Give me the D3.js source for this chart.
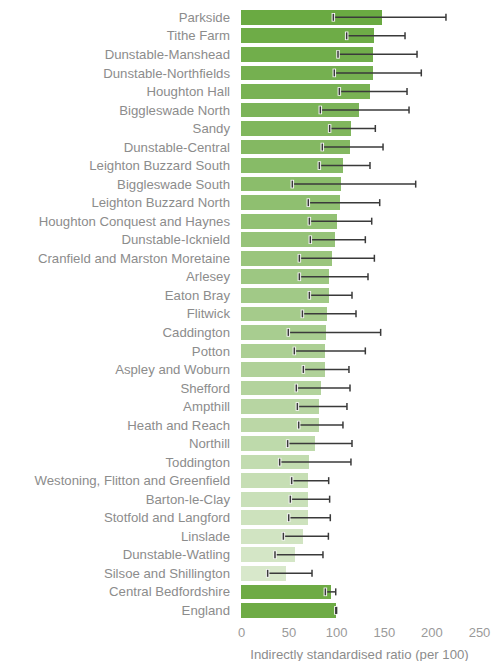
<!DOCTYPE html>
<html>
<head>
<meta charset="utf-8">
<style>
  body {margin: 0; font-family: "Liberation Sans", Arial, sans-serif; background: #fff;}
</style>
<script src="https://d3js.org/d3.v7.min.js"></script>
</head>
<body>
<div id="chart"></div>
<script>

const areas = ["Parkside", "Tithe Farm", "Dunstable-Manshead", "Dunstable-Northfields",
  "Houghton Hall", "Biggleswade North", "Sandy", "Dunstable-Central", "Leighton Buzzard South",
  "Biggleswade South", "Leighton Buzzard North", "Houghton Conquest and Haynes",
  "Dunstable-Icknield", "Cranfield and Marston Moretaine", "Arlesey", "Eaton Bray", "Flitwick",
  "Caddington", "Potton", "Aspley and Woburn", "Shefford", "Ampthill", "Heath and Reach",
  "Northill", "Toddington", "Westoning, Flitton and Greenfield", "Barton-le-Clay",
  "Stotfold and Langford", "Linslade", "Dunstable-Watling", "Silsoe and Shillington",
  "Central Bedfordshire", "England"]

const ratio = [148.1, 139.7, 138.3, 138.3, 135.2, 123.6, 115.2, 114.2, 106.8, 104.7, 103.7,
  100.5, 98.4, 95.2, 92.1, 92.1, 90.0, 88.9, 87.9, 87.9, 83.7, 81.6, 81.6, 77.4, 71.1, 70.0,
  70.0, 70.0, 64.8, 56.4, 46.9, 94.2, 100]

const lower = [97.0, 111.0, 101.9, 98.0, 103.3, 83.3, 93.1, 85.4, 82.3, 53.9, 70.7, 71.8, 72.8,
  61.3, 61.3, 71.8, 64.5, 49.7, 56.0, 65.5, 58.1, 59.2, 60.6, 49.0, 40.6, 53.2, 51.8, 50.1,
  44.5, 35.7, 28.0, 88.6, 99.6]

const upper = [215.3, 172.3, 184.9, 189.4, 174.4, 176.5, 141.1, 149.2, 135.5, 183.5, 145.7,
  137.3, 130.6, 140.1, 133.4, 116.6, 120.8, 146.7, 130.6, 113.4, 114.5, 111.3, 107.1, 116.6,
  115.5, 92.1, 93.1, 93.8, 91.8, 86.1, 74.6, 99.5, 100.4]

const xTicks = [0, 50, 100, 150, 200, 250]
const comparators = ["Central Bedfordshire", "England"]

const width = 491
const height = 661

const svg = d3.select('#chart').append('svg')
  .attr('width', width)
  .attr('height', height)

const x = d3.scaleLinear().domain([0, 250]).range([241, 479])
const y = d3.scaleBand().domain(areas).range([8.1, 619.6]).paddingInner(0.207).paddingOuter(0.1)

const nWards = areas.length - comparators.length
const shade = d3.interpolateRgb("#6aaa42", "#d8e8cb")
const color = (d, i) => comparators.includes(d) ? "#6eab45" : shade(i / (nWards - 1))

const rows = svg.append('g').selectAll('g')
  .data(areas)
  .enter().append('g')

rows.append('rect')
  .attr('x', x(0))
  .attr('y', d => y(d))
  .attr('width', (d, i) => x(ratio[i]) - x(0))
  .attr('height', y.bandwidth())
  .attr('fill', color)
  .attr('shape-rendering', 'crispEdges')

rows.append('text')
  .attr('x', 230)
  .attr('y', d => y(d) + y.bandwidth() / 2)
  .attr('dy', '0.35em')
  .attr('text-anchor', 'end')
  .style('font-size', '13.2px')
  .style('fill', '#8c8c8c')
  .text(d => d)

// error bars
const cy = d => y(d) + y.bandwidth() / 2
const capH = 3.5

rows.append('line')
  .attr('x1', (d, i) => x(lower[i]))
  .attr('x2', (d, i) => x(upper[i]))
  .attr('y1', cy).attr('y2', cy)
  .style('stroke', '#3a3a3a')
  .style('stroke-width', 1.5)

// lower cap has a light halo
rows.append('line')
  .attr('x1', (d, i) => x(lower[i])).attr('x2', (d, i) => x(lower[i]))
  .attr('y1', d => cy(d) - capH - 0.8).attr('y2', d => cy(d) + capH + 0.8)
  .style('stroke', '#f4f4f4')
  .style('stroke-width', 3.5)

rows.selectAll('.cap')
  .data((d, i) => [{d, v: lower[i]}, {d, v: upper[i]}])
  .enter().append('line')
  .attr('class', 'cap')
  .attr('x1', c => x(c.v)).attr('x2', c => x(c.v))
  .attr('y1', c => cy(c.d) - capH).attr('y2', c => cy(c.d) + capH)
  .style('stroke', '#3a3a3a')
  .style('stroke-width', 1.5)

// x axis (labels only)
const axis = svg.append('g')
  .attr('transform', 'translate(0,' + 628 + ')')
  .call(d3.axisBottom(x).tickValues(xTicks).tickSize(0).tickPadding(0))

axis.select('.domain').remove()
axis.selectAll('text')
  .attr('dy', '0.71em')
  .style('font-family', '"Liberation Sans", Arial, sans-serif')
  .style('font-size', '13px')
  .style('fill', '#9a9a9a')

svg.append('text')
  .attr('x', 359.5)
  .attr('y', 659)
  .attr('text-anchor', 'middle')
  .style('font-size', '13.2px')
  .style('fill', '#8c8c8c')
  .text('Indirectly standardised ratio (per 100)')

</script>
</body>
</html>
